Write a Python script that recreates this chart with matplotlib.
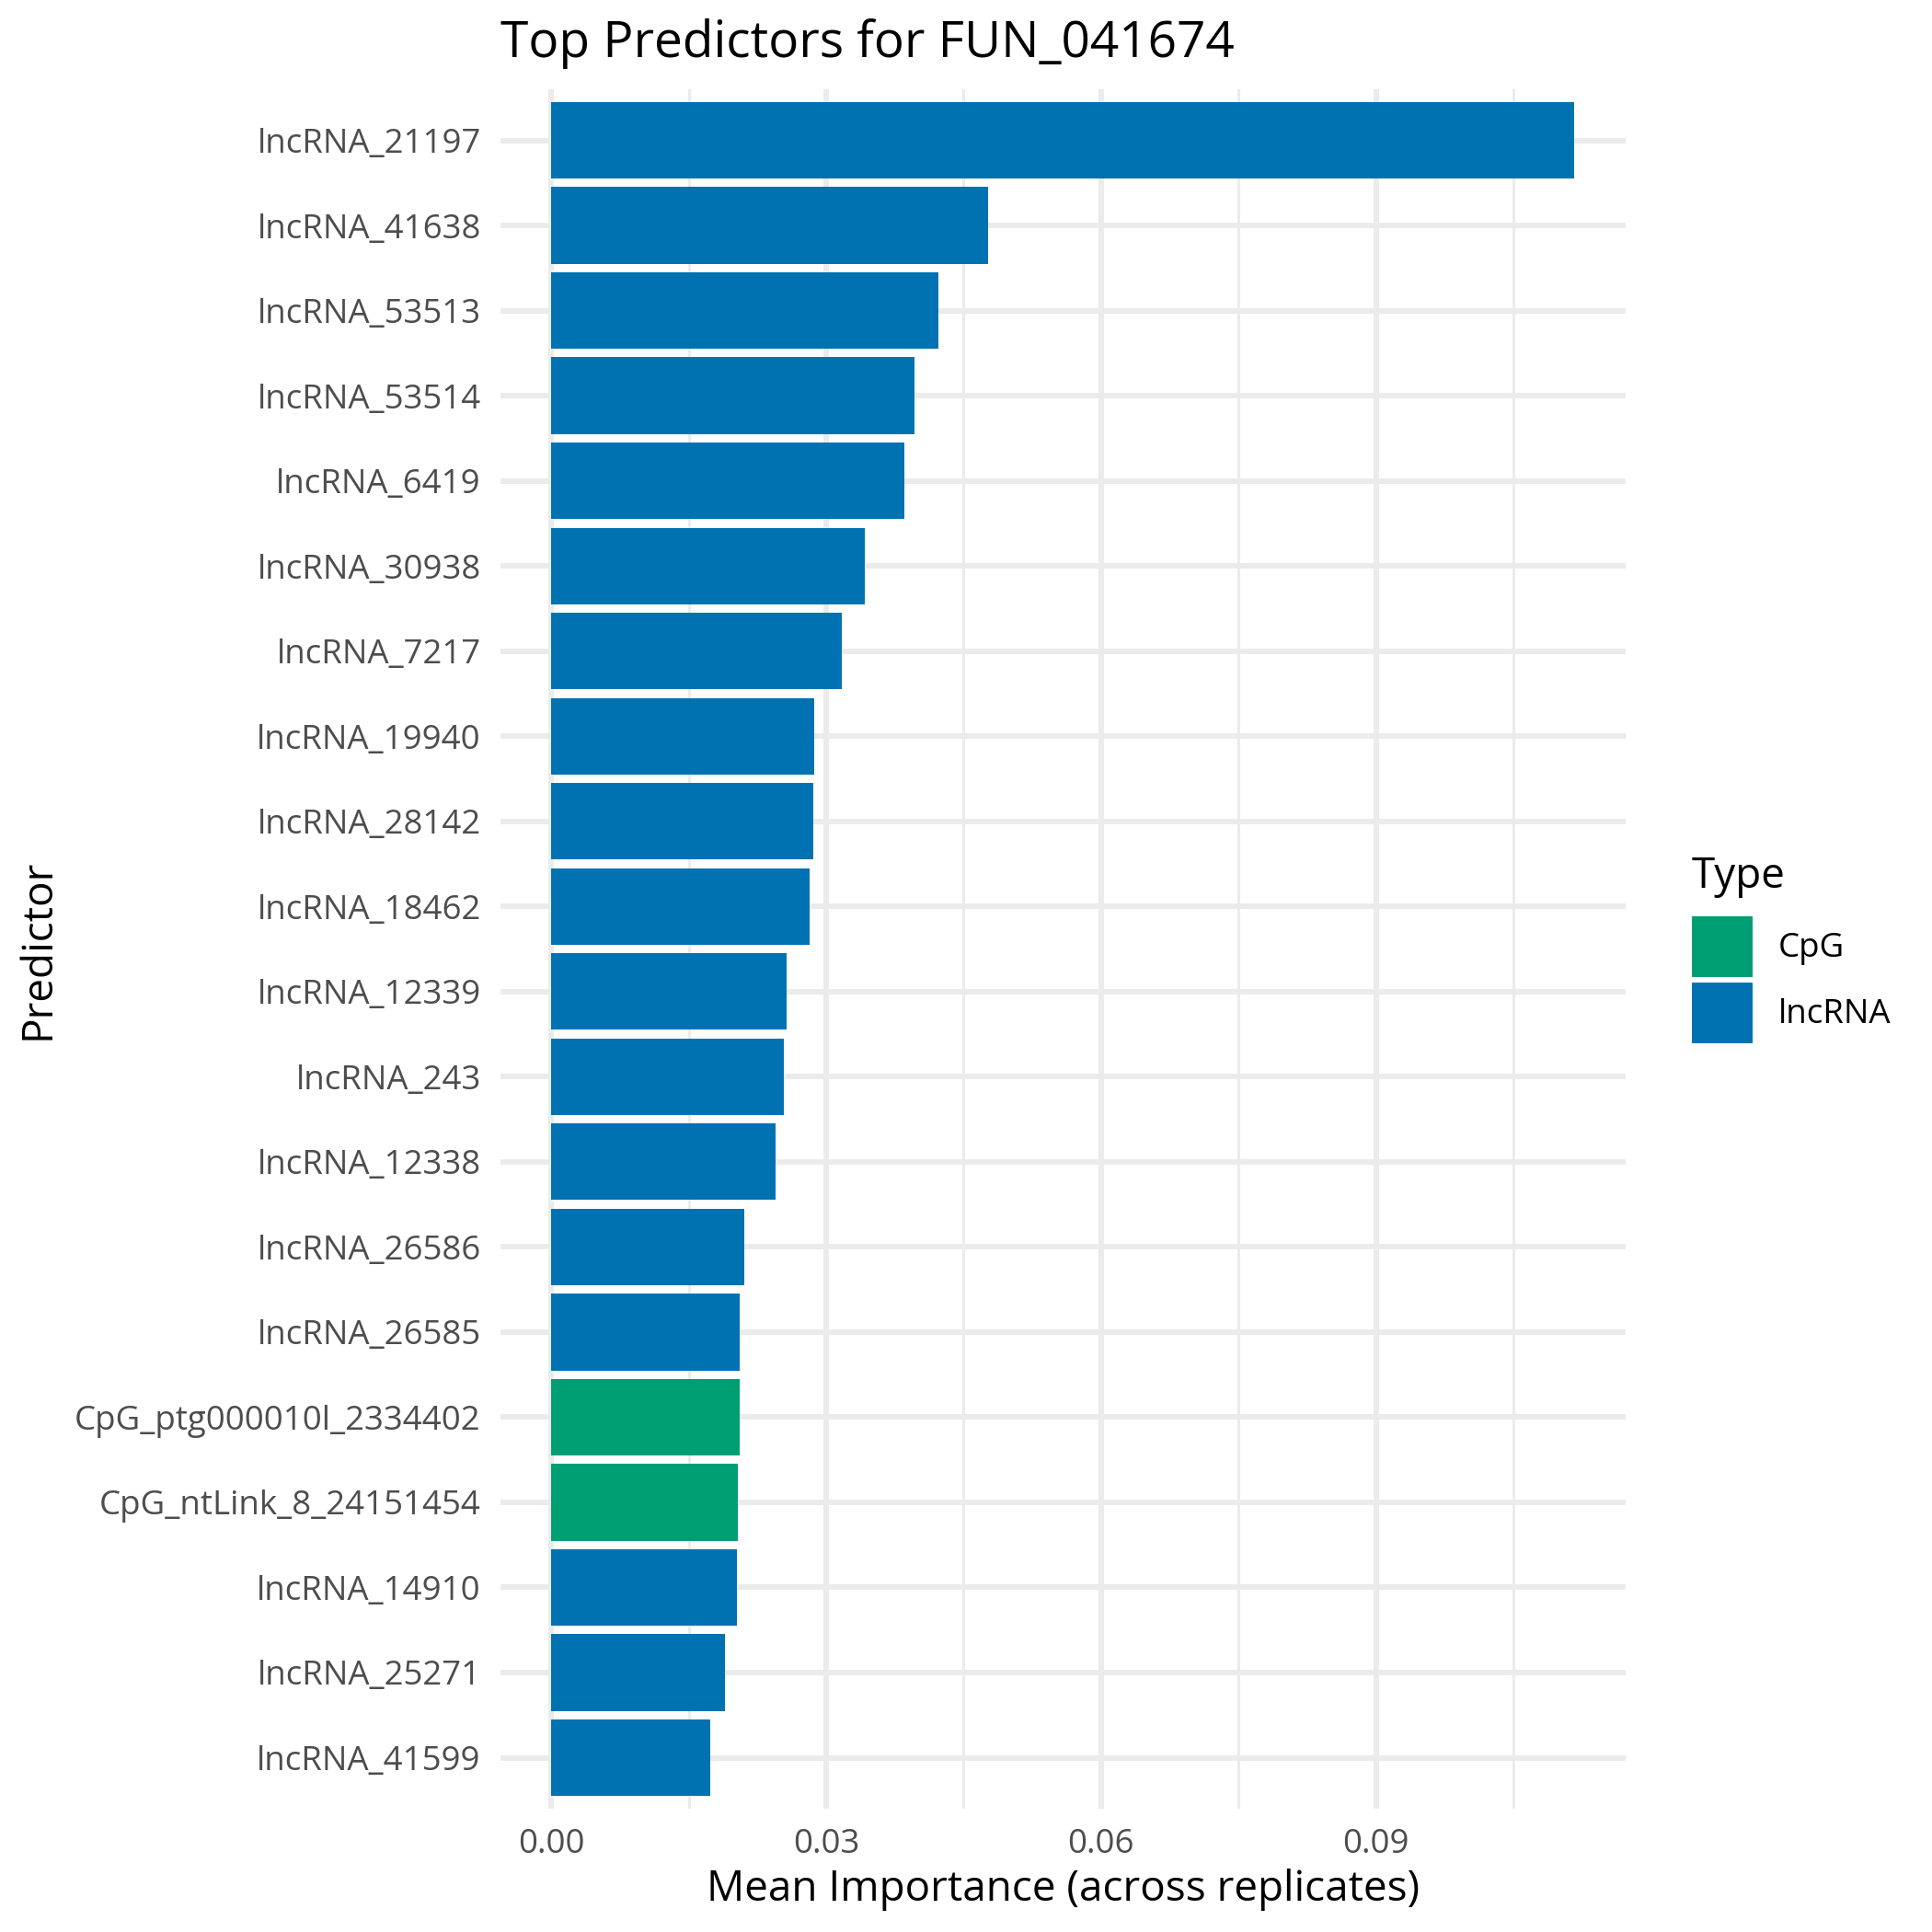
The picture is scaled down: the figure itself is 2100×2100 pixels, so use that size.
import matplotlib
matplotlib.use("Agg")
import matplotlib.pyplot as plt
from matplotlib.patches import Patch

plt.rcParams['font.family'] = ['Open Sans', 'DejaVu Sans']

predictors = [
    "lncRNA_21197", "lncRNA_41638", "lncRNA_53513", "lncRNA_53514", "lncRNA_6419",
    "lncRNA_30938", "lncRNA_7217", "lncRNA_19940", "lncRNA_28142", "lncRNA_18462",
    "lncRNA_12339", "lncRNA_243", "lncRNA_12338", "lncRNA_26586", "lncRNA_26585",
    "CpG_ptg000010l_2334402", "CpG_ntLink_8_24151454", "lncRNA_14910", "lncRNA_25271",
    "lncRNA_41599",
]
importance = [
    0.11164, 0.04766, 0.04221, 0.03960, 0.03850,
    0.03418, 0.03167, 0.02866, 0.02856, 0.02816,
    0.02565, 0.02535, 0.02444, 0.02104, 0.02054,
    0.02054, 0.02034, 0.02024, 0.01894, 0.01733,
]
types = ["lncRNA"] * 15 + ["CpG", "CpG"] + ["lncRNA"] * 3
type_levels = ["CpG", "lncRNA"]
type_colors = {"CpG": "#009E73", "lncRNA": "#0072B2"}
x_ticks = [0.00, 0.03, 0.06, 0.09]
x_minor = [0.015, 0.045, 0.075, 0.105]

fig = plt.figure(figsize=(7, 7), dpi=300)
ax = fig.add_axes([0.2589, 0.0638, 0.8413 - 0.2589, 0.9538 - 0.0638])

n = len(predictors)
ypos = list(range(n))[::-1]  # first predictor on top
ax.barh(ypos, importance, height=0.9,
        color=[type_colors[t] for t in types], zorder=3)

vmax = max(importance)
ax.set_xlim(-0.05 * vmax, 1.05 * vmax)
ax.set_ylim(-0.6, n - 1 + 0.6)
ax.set_yticks(ypos)
ax.set_yticklabels(predictors)
ax.set_xticks(x_ticks)
ax.set_xticklabels([f"{v:.2f}" for v in x_ticks])
ax.set_xticks(x_minor, minor=True)

ax.grid(True, which='major', axis='both', color='#EBEBEB', linewidth=1.42, zorder=0)
ax.grid(True, which='minor', axis='x', color='#EBEBEB', linewidth=0.71, zorder=0)
ax.set_axisbelow(True)
for s in ax.spines.values():
    s.set_visible(False)
ax.tick_params(axis='both', which='both', length=0, labelsize=8.8, labelcolor='#4D4D4D')
ax.tick_params(axis='y', pad=5)
ax.tick_params(axis='x', pad=5)

ax.set_xlabel("Mean Importance (across replicates)", fontsize=11, labelpad=2)
ax.set_ylabel("Predictor", fontsize=11, labelpad=4)
ax.set_title("Top Predictors for FUN_041674", fontsize=13.2, loc='left', pad=8.5)

handles = [Patch(facecolor=type_colors[t], edgecolor='none', label=t) for t in type_levels]
leg = fig.legend(handles=handles, loc='upper left',
                 bbox_to_anchor=(1839 / 2100, 1 - 996 / 2100), frameon=False,
                 fontsize=8.8, handlelength=1.8, handleheight=2.41,
                 handletextpad=0.75, labelspacing=0.14, borderpad=0, borderaxespad=0)
fig.text(1839 / 2100, 1 - 965 / 2100, "Type", fontsize=11, ha='left', va='baseline')

fig.savefig("out.png", dpi=300)
